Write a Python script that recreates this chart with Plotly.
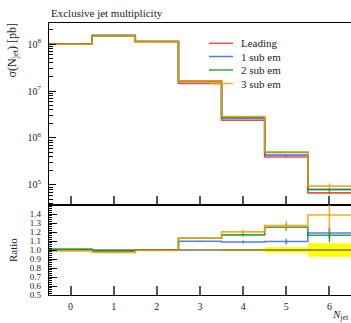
import plotly.graph_objects as go

# ---- data ----
bin_centers = [0, 1, 2, 3, 4, 5, 6]
bin_edges = [-0.5, 0.5, 1.5, 2.5, 3.5, 4.5, 5.5, 6.5]
series_names = ["Leading", "1 sub em", "2 sub em", "3 sub em"]
leading = [1.00e8, 1.52e8, 1.13e8, 1.45e7, 2.38e6, 3.95e5, 6.8e4]
sub1 = [1.00e8, 1.505e8, 1.13e8, 1.59e7, 2.59e6, 4.32e5, 8.09e4]
sub2 = [1.01e8, 1.505e8, 1.13e8, 1.64e7, 2.78e6, 4.95e5, 7.92e4]
sub3 = [0.99e8, 1.48e8, 1.124e8, 1.64e7, 2.86e6, 5.02e5, 9.45e4]
relerr_leading = [0.001, 0.001, 0.002, 0.004, 0.01, 0.03, 0.075]
relerr_sub1 = [0.002, 0.002, 0.003, 0.006, 0.015, 0.03, 0.05]
relerr_sub2 = [0.002, 0.002, 0.003, 0.006, 0.015, 0.03, 0.068]
relerr_sub3 = [0.002, 0.002, 0.003, 0.008, 0.022, 0.04, 0.14]
x_ticks = [0, 1, 2, 3, 4, 5, 6]
ratio_ticks = [0.5, 0.6, 0.7, 0.8, 0.9, 1.0, 1.1, 1.2, 1.3, 1.4]
main_ticks = [1e5, 1e6, 1e7, 1e8]
main_tick_text = ["10<sup>5</sup>", "10<sup>6</sup>", "10<sup>7</sup>", "10<sup>8</sup>"]

colors = ["rgba(238,51,17,0.85)", "rgba(51,102,255,0.85)",
          "rgba(16,150,24,0.85)", "rgba(255,153,0,0.85)"]
all_vals = [leading, sub1, sub2, sub3]
all_errs = [relerr_leading, relerr_sub1, relerr_sub2, relerr_sub3]

# ---- geometry helpers (layout only) ----
W, H = 351, 323
ML, MT, MB = 49, 23, 28
PW, PH = W - ML, H - MT - MB
def px(x):
    return (x - ML) / PW
def py(y):
    return (H - MB - y) / PH
ratio_top = py(205)

SERIF = "Liberation Serif, Times New Roman, serif"
fig = go.Figure()

def step(vals):
    return list(vals) + [vals[-1]]

# main panel
for name, vals, errs, c in zip(series_names, all_vals, all_errs, colors):
    fig.add_trace(go.Scatter(x=bin_edges, y=step(vals), mode="lines",
                             line=dict(color=c, width=1.6, shape="hv"),
                             name=name, showlegend=False, xaxis="x", yaxis="y"))
    fig.add_trace(go.Scatter(x=bin_centers, y=vals, mode="markers",
                             marker=dict(size=0.1, color=c, opacity=0),
                             error_y=dict(type="data", array=[v * e for v, e in zip(vals, errs)],
                                          color=c, thickness=1.5, width=0),
                             showlegend=False, xaxis="x", yaxis="y"))

# ratio panel: reference band
band_lo = [1 - e for e in relerr_leading]
band_hi = [1 + e for e in relerr_leading]
fig.add_trace(go.Scatter(x=bin_edges, y=step(band_lo), mode="lines",
                         line=dict(width=0, shape="hv", color="yellow"),
                         showlegend=False, xaxis="x2", yaxis="y2"))
fig.add_trace(go.Scatter(x=bin_edges, y=step(band_hi), mode="lines",
                         line=dict(width=0, shape="hv", color="yellow"),
                         fill="tonexty", fillcolor="#FFFF00",
                         showlegend=False, xaxis="x2", yaxis="y2"))
fig.add_trace(go.Scatter(x=bin_edges, y=step([v / r for v, r in zip(leading, leading)]),
                         mode="lines", line=dict(color="#333333", width=1.2, shape="hv"),
                         showlegend=False, xaxis="x2", yaxis="y2"))
for vals, errs, c in zip(all_vals[1:], all_errs[1:], colors[1:]):
    ratio = [v / r for v, r in zip(vals, leading)]
    fig.add_trace(go.Scatter(x=bin_edges, y=step(ratio), mode="lines",
                             line=dict(color=c, width=1.6, shape="hv"),
                             showlegend=False, xaxis="x2", yaxis="y2"))
    fig.add_trace(go.Scatter(x=bin_centers, y=ratio, mode="markers",
                             marker=dict(size=0.1, color=c, opacity=0),
                             error_y=dict(type="data", array=[q * e for q, e in zip(ratio, errs)],
                                          color=c, thickness=1.5, width=0),
                             showlegend=False, xaxis="x2", yaxis="y2"))

tickfont = dict(family=SERIF, size=10, color="#222")
fig.update_layout(
    width=W, height=H, margin=dict(l=ML, r=0, t=MT, b=MB),
    paper_bgcolor="white", plot_bgcolor="white", showlegend=False,
    xaxis=dict(domain=[0, 1], range=[-0.5, 6.5], anchor="y", showticklabels=False,
               tickvals=x_ticks, ticks="inside", ticklen=9, tickwidth=1.5, tickcolor="#555",
               showline=True, linecolor="black", linewidth=1.2, mirror=True,
               showgrid=False, zeroline=False),
    yaxis=dict(domain=[ratio_top, 1], type="log", range=[4.574, 8.447], anchor="x",
               tickvals=main_ticks, ticktext=main_tick_text,
               ticks="inside", ticklen=7, tickwidth=1, tickcolor="black",
               minor=dict(ticks="inside", ticklen=4, tickwidth=1, tickcolor="black", dtick="D1", showgrid=False),
               showline=True, linecolor="black", linewidth=1.2, mirror=True,
               showgrid=False, zeroline=False, tickfont=tickfont, ticklabelstandoff=5),
    xaxis2=dict(domain=[0, 1], range=[-0.5, 6.5], anchor="y2",
                tickvals=x_ticks, ticks="inside", ticklen=9, tickwidth=1.5, tickcolor="#555",
                showline=True, linecolor="black", linewidth=1.2, mirror=True,
                showgrid=False, zeroline=False, tickfont=tickfont, ticklabelstandoff=2),
    yaxis2=dict(domain=[0, ratio_top], range=[0.5, 1.5], anchor="x2",
                tickvals=ratio_ticks, tickformat=".1f",
                ticks="inside", ticklen=8, tickwidth=1, tickcolor="black",
                minor=dict(ticks="inside", ticklen=3, tickwidth=1, tickcolor="black",
                           tick0=0.5, dtick=0.02, showgrid=False),
                showline=True, linecolor="black", linewidth=1.2, mirror=True,
                showgrid=False, zeroline=False,
                tickfont=dict(family=SERIF, size=9, color="#222"), ticklabelstandoff=5),
)

ann = []
ann.append(dict(text="Exclusive jet multiplicity", xref="paper", yref="paper",
                x=px(49), y=py(12.5), xanchor="left", yanchor="middle", showarrow=False,
                font=dict(family=SERIF, size=11, color="#222")))
ann.append(dict(text="σ(N<sub>jet</sub>) [pb]", xref="paper", yref="paper", textangle=-90,
                x=px(12), y=py(21), xanchor="center", yanchor="top", showarrow=False,
                font=dict(family=SERIF, size=12, color="#222")))
ann.append(dict(text="Ratio", xref="paper", yref="paper", textangle=-90,
                x=px(13), y=py(250), xanchor="center", yanchor="middle", showarrow=False,
                font=dict(family=SERIF, size=11, color="#222")))
ann.append(dict(text="<i>N</i><sub>jet</sub>", xref="paper", yref="paper",
                x=1.0, y=py(315), xanchor="right", yanchor="middle", showarrow=False,
                font=dict(family=SERIF, size=11, color="#222")))
legend_y = [43.3, 56.5, 70, 83.5]
shapes = []
for name, c, ly in zip(series_names, colors, legend_y):
    shapes.append(dict(type="line", xref="paper", yref="paper", x0=px(209), x1=px(233),
                       y0=py(ly), y1=py(ly), line=dict(color=c, width=1.5)))
    ann.append(dict(text=name, xref="paper", yref="paper", x=px(239), y=py(ly),
                    xanchor="left", yanchor="middle", showarrow=False,
                    font=dict(family=SERIF, size=11, color="#222")))
fig.update_layout(annotations=ann, shapes=shapes)

fig.write_html("out.html")
